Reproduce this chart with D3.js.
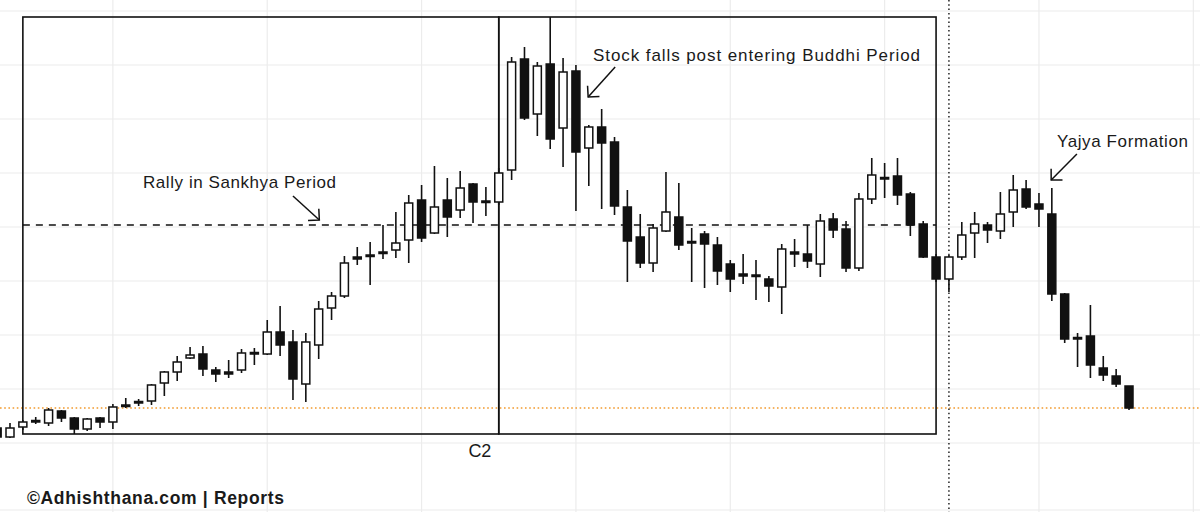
<!DOCTYPE html>
<html>
<head>
<meta charset="utf-8">
<script src="https://cdn.jsdelivr.net/npm/d3@7"></script>
<style>
  html, body { margin: 0; padding: 0; background: #fff; }
  svg { display: block; }
</style>
</head>
<body>
<svg id="chart" width="1200" height="512"></svg>
<script>
// ---- data (price units are relative) ----
const candleIndex = d3.range(-1, 88);
const openP  = [72,63,73,78.5,77,89,82,71,82,78,95,98.5,99,117,128,142,146,130,128,130,146.5,146,168,158,116,155,192,204,243,245,248,250,260,300,267,300,290,316,299,298,330,441,386,436,372,429,352,373,358,293,263,237,269,283,258.5,266,255,236,226,225,221,213,248,246,236,281,271,232,301,322.5,324,306,276,243,221,243,267,275,269,288,311,296,286,206,162.5,164,132,124,114];
const highP  = [73,77,80,83,92,90,83,82,83,96,102,101,116,129,144,153,154,133,140,151,152,180,194,170,167,199,208,244,253,258,275,288,305,315,334,322,329,317,313,332,443,453,438,483,442,435,375,391,363,310,286,276,328,317,272,269,263,240,246,240,224,256,261,275,286,287,279,307,342,337,342,308,279,246,245,278,288,278,308,325,320,307,312,207,167,195,144,131,114];
const lowP   = [62,62,70,76,74,78,66,69,72,71,92,94,95,104,119,141,124,118,122,127,135,145,144,100,98,141,180,202,235,215,241,242,237,258,266,263,282,277,284,295,320,380,364,351,333,289,314,291,285,218,232,228,268,250,218,212,215,208,216,200,198,186,233,232,223,262,228,229,296,302,295,264,242,218,208,240,242,257,261,273,291,273,199,157,133,122,119,113,90];
const closeP = [63,72,78,79.5,90,82,71,81,78,93,94,97.5,115,128,138,145,131,126,126,147,147.5,168,155,121,158,191,204,237,241,244.5,247,257,297,262,293,283,312,298,298.5,327,438,382,434,361,428,348,373,357,294,259,237,272,288,255,257.5,256,229,221,224,224.5,214,251,246,239,279,270,232,301,325,321.5,305,275,243,221,243,265,276,270,286,310,293,291,206,161,161.5,135,125,116,92];

const gridPrices = [-10, 57, 111, 165, 219, 273, 327, 381, 435, 489];
const gridIndices = [8, 20, 32, 44, 56, 68, 80, 92];

// annotation content
const periodBoxes = [
  {from: 1, to: 38, top: 483, bottom: 66},
  {from: 38, to: 72, top: 483, bottom: 66}
];
const levelLine = {from: 1, to: 72, price: 275};
const supportPrice = 92;
const markerIndex = 73;
const cycleLabel = {text: "C2", index: 37, price: 43};
const notes = [
  {text: "Rally in Sankhya Period", tx: 143, ty: 188, len: 193, ax1: 22.0, ap1: 304, ax2: 24.05, ap2: 280},
  {text: "Stock falls post entering Buddhi Period", tx: 593, ty: 61, len: 327, ax1: 47.05, ap1: 433, ax2: 44.95, ap2: 403},
  {text: "Yajya Formation", tx: 1057, ty: 147, len: 131, ax1: 82.95, ap1: 346, ax2: 80.95, ap2: 320}
];
const footer = "©Adhishthana.com | Reports";

// ---- build ----
const candles = candleIndex.map((i, k) => ({i, o: openP[k], h: highP[k], l: lowP[k], c: closeP[k]}));

const W = 1200, H = 512;
const svg = d3.select("#chart");
const x = d3.scaleLinear().domain([0, 87]).range([10, 1129]);
const y = d3.scaleLinear().domain([0, 500]).range([500, 0]);

// grid
svg.append("g").selectAll("line").data(gridPrices).join("line")
  .attr("x1", 0).attr("x2", W)
  .attr("y1", d => y(d)).attr("y2", d => y(d))
  .attr("stroke", "#ececec").attr("stroke-width", 1.2);
svg.append("g").selectAll("line").data(gridIndices).join("line")
  .attr("x1", d => x(d)).attr("x2", d => x(d))
  .attr("y1", 0).attr("y2", H)
  .attr("stroke", "#ececec").attr("stroke-width", 1.2);

// support dotted orange line
svg.append("line")
  .attr("x1", 0).attr("x2", W)
  .attr("y1", y(supportPrice)).attr("y2", y(supportPrice))
  .attr("stroke", "#f29a2e").attr("stroke-width", 1.6).attr("stroke-dasharray", "1.6,2.6");

// dashed level
svg.append("line")
  .attr("x1", x(levelLine.from)).attr("x2", x(levelLine.to))
  .attr("y1", y(levelLine.price)).attr("y2", y(levelLine.price))
  .attr("stroke", "#111").attr("stroke-width", 1.4).attr("stroke-dasharray", "7,6");

// boxes
svg.append("g").selectAll("rect").data(periodBoxes).join("rect")
  .attr("x", d => x(d.from)).attr("y", d => y(d.top))
  .attr("width", d => x(d.to) - x(d.from))
  .attr("height", d => y(d.bottom) - y(d.top))
  .attr("fill", "none").attr("stroke", "#111").attr("stroke-width", 1.6);

// dotted vertical marker
svg.append("line")
  .attr("x1", x(markerIndex)).attr("x2", x(markerIndex))
  .attr("y1", 0).attr("y2", H)
  .attr("stroke", "#111").attr("stroke-width", 1.4).attr("stroke-dasharray", "1.5,2.8");

// candles
const bw = 8;
const cg = svg.append("g").selectAll("g").data(candles).join("g");
cg.append("line")
  .attr("x1", d => x(d.i)).attr("x2", d => x(d.i))
  .attr("y1", d => y(d.h)).attr("y2", d => y(d.l))
  .attr("stroke", "#111").attr("stroke-width", 1.6);
cg.append("rect")
  .attr("x", d => x(d.i) - bw / 2)
  .attr("y", d => y(Math.max(d.o, d.c)))
  .attr("width", bw)
  .attr("height", d => Math.max(1.5, Math.abs(y(d.o) - y(d.c))))
  .attr("fill", d => d.c >= d.o ? "#fff" : "#111")
  .attr("stroke", "#111").attr("stroke-width", 1.5);

// arrows
const defs = svg.append("defs");
defs.append("marker").attr("id", "head")
  .attr("viewBox", "-12 -12 24 24").attr("markerWidth", 24).attr("markerHeight", 24)
  .attr("markerUnits", "userSpaceOnUse").attr("refX", 0).attr("refY", 0).attr("orient", "auto")
  .append("path").attr("d", "M-8,-8 L0,0 L-8,8")
  .attr("fill", "none").attr("stroke", "#111").attr("stroke-width", 1.5);

const ng = svg.append("g").selectAll("g").data(notes).join("g");
ng.append("line")
  .attr("x1", d => x(d.ax1)).attr("y1", d => y(d.ap1))
  .attr("x2", d => x(d.ax2)).attr("y2", d => y(d.ap2))
  .attr("stroke", "#111").attr("stroke-width", 1.5).attr("marker-end", "url(#head)");
ng.append("text")
  .attr("x", d => d.tx).attr("y", d => d.ty)
  .attr("font-family", "'Liberation Sans', Arial, sans-serif")
  .attr("font-size", 17).attr("fill", "#1a1a1a")
  .attr("textLength", d => d.len).attr("lengthAdjust", "spacing")
  .text(d => d.text);

// C2 label
svg.append("text")
  .attr("x", x(cycleLabel.index) - 6).attr("y", y(cycleLabel.price))
  .attr("text-anchor", "middle")
  .attr("font-family", "'Liberation Sans', Arial, sans-serif")
  .attr("font-size", 18).attr("fill", "#1a1a1a")
  .text(cycleLabel.text);

// footer
svg.append("text")
  .attr("x", 27).attr("y", 504)
  .attr("font-family", "'Liberation Sans', Arial, sans-serif")
  .attr("font-weight", "bold").attr("font-size", 17.5).attr("fill", "#1a1a1a")
  .attr("textLength", 257).attr("lengthAdjust", "spacing")
  .text(footer);
</script>
</body>
</html>
